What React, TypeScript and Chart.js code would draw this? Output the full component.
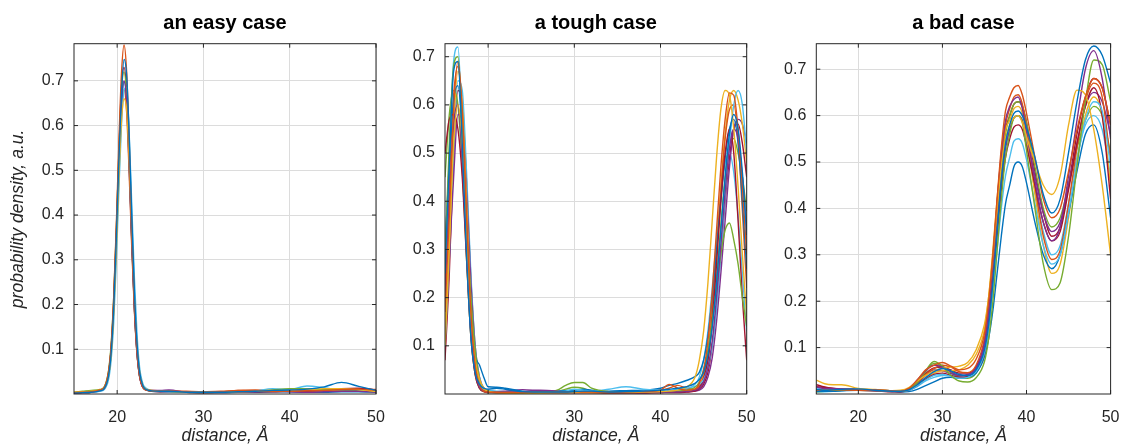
import React, { useEffect, useRef } from 'react';
import Chart from 'chart.js/auto';

// ---------- data ----------
const COLORS = ['#0072BD', '#D95319', '#EDB120', '#7E2F8E', '#77AC30', '#4DBEEE', '#A2142F'];
const X_TICKS = [20, 30, 40, 50];
const Y_TICKS = [0.1, 0.2, 0.3, 0.4, 0.5, 0.6, 0.7];
const X_LABEL = 'distance, Å';
const Y_LABEL = 'probability density, a.u.';
const TITLES = ['an easy case', 'a tough case', 'a bad case'];

// panel 1: an easy case
const EASY_X = [15, 16, 17, 18, 18.5, 19, 19.3, 19.6, 19.9, 20.2, 20.5, 20.8, 21.1, 21.4, 21.7, 22, 22.3, 22.6, 23, 23.5, 24, 25, 26, 28, 30, 32, 34, 36, 38, 40, 42, 44, 46, 48, 50];
const EASY_1 = [.002, .003, .004, .007, .012, .040, .090, .190, .345, .520, .670, .748, .712, .575, .395, .230, .115, .050, .018, .009, .007, .006, .006, .004, .004, .004, .005, .006, .008, .009, .011, .016, .026, .017, .008];
const EASY_2 = [.003, .004, .005, .009, .015, .050, .105, .215, .375, .560, .715, .780, .720, .560, .370, .205, .100, .042, .014, .008, .007, .006, .007, .005, .004, .005, .008, .007, .006, .006, .007, .008, .010, .011, .008];
const EASY_3 = [.004, .005, .006, .009, .013, .040, .085, .180, .320, .480, .610, .660, .635, .520, .365, .215, .110, .050, .018, .010, .008, .006, .006, .004, .004, .004, .005, .006, .006, .008, .010, .012, .012, .010, .006];
const EASY_4 = [.002, .003, .004, .008, .012, .045, .100, .200, .350, .520, .655, .700, .650, .505, .335, .190, .092, .040, .014, .009, .008, .008, .009, .004, .003, .003, .004, .005, .007, .005, .004, .005, .006, .006, .004];
const EASY_5 = [.004, .006, .008, .010, .016, .052, .110, .215, .365, .535, .675, .720, .665, .515, .340, .192, .093, .040, .015, .009, .007, .006, .006, .004, .003, .004, .004, .006, .009, .012, .012, .010, .009, .007, .005];
const EASY_6 = [.002, .003, .004, .006, .010, .032, .075, .160, .295, .455, .600, .680, .685, .580, .420, .260, .135, .060, .022, .011, .008, .006, .005, .004, .004, .004, .005, .007, .012, .010, .018, .014, .008, .006, .005];
const EASY_7 = [.002, .003, .004, .007, .012, .045, .100, .205, .360, .540, .685, .730, .675, .525, .345, .195, .094, .040, .014, .008, .006, .005, .005, .004, .003, .004, .005, .005, .005, .006, .006, .008, .012, .013, .009];
const EASY_8 = [.003, .004, .005, .008, .013, .042, .092, .190, .335, .500, .635, .698, .665, .540, .370, .215, .108, .047, .016, .008, .006, .005, .005, .004, .003, .003, .004, .004, .005, .005, .004, .004, .005, .005, .004];
const EASY_9 = [.003, .004, .005, .008, .013, .046, .098, .195, .340, .495, .625, .680, .630, .490, .325, .185, .090, .040, .015, .009, .008, .007, .007, .006, .005, .006, .008, .009, .008, .007, .008, .009, .010, .012, .010];
const EASY_SERIES = [EASY_1, EASY_2, EASY_3, EASY_4, EASY_5, EASY_6, EASY_7, EASY_8, EASY_9];

// panel 2: a tough case
const TOUGH_X = [15, 15.5, 16, 16.5, 17, 17.5, 18, 18.5, 19, 19.5, 20, 21, 22, 24, 26, 28, 29, 30, 31, 32, 34, 36, 38, 40, 41, 42, 43, 44, 44.5, 45, 45.5, 46, 46.5, 47, 47.5, 48, 48.5, 49, 49.5, 50];
const TOUGH_1 = [.25, .48, .67, .69, .52, .29, .12, .045, .02, .012, .010, .012, .010, .005, .004, .004, .004, .005, .006, .006, .004, .005, .006, .008, .010, .012, .015, .022, .030, .045, .08, .14, .23, .34, .45, .54, .58, .55, .46, .33];
const TOUGH_2 = [.17, .37, .59, .69, .59, .37, .17, .06, .018, .006, .004, .003, .003, .003, .005, .004, .004, .005, .004, .004, .003, .004, .005, .008, .020, .012, .008, .010, .022, .050, .11, .21, .34, .47, .57, .625, .62, .55, .43, .29];
const TOUGH_3 = [.14, .32, .52, .60, .52, .33, .16, .07, .03, .012, .006, .003, .002, .002, .002, .003, .003, .003, .003, .003, .003, .003, .004, .005, .006, .008, .014, .035, .07, .13, .23, .36, .49, .59, .63, .62, .55, .43, .29, .16];
const TOUGH_4 = [.20, .40, .56, .60, .49, .30, .13, .045, .014, .006, .004, .004, .004, .005, .008, .006, .004, .004, .004, .004, .003, .003, .003, .004, .004, .004, .005, .008, .012, .025, .055, .11, .20, .31, .42, .51, .55, .53, .45, .34];
const TOUGH_5 = [.28, .52, .68, .70, .55, .35, .20, .09, .03, .012, .006, .004, .003, .003, .004, .008, .018, .024, .024, .012, .005, .004, .004, .004, .005, .006, .008, .014, .025, .05, .09, .15, .22, .29, .34, .355, .32, .27, .20, .14];
const TOUGH_6 = [.26, .50, .69, .72, .55, .31, .13, .05, .02, .01, .008, .006, .005, .004, .004, .005, .006, .010, .008, .006, .010, .015, .010, .008, .008, .010, .012, .016, .02, .03, .055, .10, .18, .29, .41, .52, .60, .63, .60, .50];
const TOUGH_7 = [.50, .57, .58, .55, .45, .28, .12, .04, .012, .005, .003, .003, .003, .003, .003, .003, .003, .003, .003, .003, .002, .002, .002, .003, .003, .003, .004, .006, .012, .03, .07, .15, .27, .40, .50, .55, .50, .36, .20, .07];
const TOUGH_8 = [.30, .48, .61, .64, .54, .34, .16, .08, .06, .035, .015, .014, .012, .006, .005, .006, .007, .008, .010, .008, .006, .007, .008, .012, .018, .022, .028, .036, .045, .07, .12, .20, .30, .40, .49, .55, .57, .52, .40, .26];
const TOUGH_9 = [.22, .44, .62, .68, .57, .36, .17, .06, .02, .008, .005, .005, .005, .004, .004, .005, .005, .005, .005, .005, .004, .004, .005, .008, .012, .018, .012, .010, .016, .035, .08, .17, .29, .42, .53, .59, .60, .53, .38, .22];
const TOUGH_10 = [.10, .30, .55, .67, .60, .40, .19, .08, .03, .01, .005, .003, .003, .002, .003, .003, .003, .004, .004, .003, .003, .003, .003, .004, .005, .005, .006, .009, .016, .04, .09, .18, .30, .43, .54, .61, .63, .61, .56, .48];
const TOUGH_11 = [.13, .28, .45, .58, .56, .42, .23, .09, .03, .01, .006, .005, .006, .009, .007, .006, .005, .005, .004, .004, .004, .004, .004, .004, .004, .004, .005, .006, .008, .015, .035, .075, .15, .25, .36, .47, .55, .57, .56, .52];
const TOUGH_12 = [.45, .58, .63, .60, .47, .28, .12, .04, .012, .005, .003, .003, .003, .002, .003, .005, .010, .014, .012, .006, .004, .006, .004, .004, .004, .005, .006, .008, .014, .03, .07, .14, .24, .35, .45, .52, .53, .50, .45, .38];
const TOUGH_13 = [.10, .28, .50, .65, .63, .46, .25, .10, .035, .012, .006, .004, .004, .003, .003, .003, .003, .004, .004, .004, .005, .006, .005, .005, .006, .007, .01, .02, .035, .07, .13, .22, .32, .41, .48, .50, .46, .37, .25, .13];
const TOUGH_14 = [.07, .25, .50, .63, .60, .44, .24, .10, .035, .012, .005, .003, .003, .003, .003, .003, .003, .003, .003, .003, .003, .003, .003, .003, .004, .004, .005, .007, .01, .02, .045, .10, .18, .29, .40, .49, .55, .56, .52, .45];
const TOUGH_SERIES = [TOUGH_1, TOUGH_2, TOUGH_3, TOUGH_4, TOUGH_5, TOUGH_6, TOUGH_7, TOUGH_8, TOUGH_9, TOUGH_10, TOUGH_11, TOUGH_12, TOUGH_13, TOUGH_14];

// panel 3: a bad case
const BAD_X = [15, 16, 17, 18, 20, 22, 24, 25, 26, 27, 28, 29, 30, 31, 32, 33, 34, 35, 35.5, 36, 36.5, 37, 37.5, 38, 38.5, 39, 39.5, 40, 41, 42, 43, 44, 45, 46, 47, 48, 49, 50];
const BAD_1 = [.010, .008, .009, .010, .011, .008, .006, .006, .009, .020, .035, .048, .055, .050, .042, .040, .052, .095, .15, .24, .35, .46, .54, .58, .605, .61, .60, .575, .51, .43, .39, .42, .52, .63, .72, .75, .73, .67];
const BAD_2 = [.008, .008, .009, .009, .008, .009, .007, .006, .012, .030, .052, .062, .068, .060, .052, .055, .075, .13, .20, .30, .42, .53, .61, .64, .66, .665, .645, .605, .51, .42, .38, .40, .48, .57, .64, .68, .66, .58];
const BAD_3 = [.030, .022, .020, .020, .012, .010, .007, .008, .014, .028, .040, .050, .055, .058, .060, .068, .095, .15, .21, .30, .40, .49, .55, .58, .595, .60, .585, .555, .50, .45, .43, .47, .58, .655, .645, .57, .45, .30];
const BAD_4 = [.015, .012, .012, .011, .010, .008, .006, .006, .012, .030, .050, .062, .058, .048, .040, .040, .055, .11, .18, .29, .41, .52, .59, .62, .635, .64, .615, .565, .46, .37, .33, .36, .47, .59, .70, .74, .68, .55];
const BAD_5 = [.008, .008, .008, .009, .009, .008, .006, .006, .010, .025, .050, .070, .060, .040, .028, .026, .035, .07, .12, .20, .31, .42, .51, .56, .595, .60, .585, .525, .40, .28, .225, .24, .34, .49, .63, .72, .71, .63];
const BAD_6 = [.012, .010, .010, .010, .010, .008, .006, .006, .008, .018, .030, .040, .042, .038, .034, .036, .048, .09, .14, .22, .31, .40, .47, .51, .545, .55, .54, .505, .41, .32, .28, .30, .39, .50, .59, .63, .61, .49];
const BAD_7 = [.020, .015, .012, .010, .008, .007, .005, .005, .008, .018, .032, .042, .045, .040, .036, .038, .050, .09, .15, .24, .34, .44, .51, .55, .575, .58, .57, .535, .45, .37, .33, .35, .44, .54, .62, .66, .60, .42];
const BAD_8 = [.006, .006, .006, .007, .008, .007, .005, .004, .005, .010, .018, .026, .034, .036, .034, .036, .045, .08, .12, .18, .26, .34, .41, .45, .49, .50, .49, .455, .37, .30, .27, .30, .39, .48, .56, .58, .52, .38];
const BAD_9 = [.010, .010, .011, .011, .010, .008, .006, .006, .010, .024, .042, .055, .062, .058, .048, .046, .062, .12, .19, .29, .41, .51, .58, .615, .64, .645, .625, .575, .45, .34, .29, .31, .41, .53, .63, .67, .64, .50];
const BAD_10 = [.006, .007, .007, .008, .008, .007, .006, .006, .009, .020, .035, .045, .050, .050, .052, .062, .085, .14, .21, .31, .42, .51, .57, .59, .615, .62, .605, .555, .43, .32, .26, .28, .38, .50, .60, .64, .60, .45];
const BAD_11 = [.010, .010, .010, .010, .009, .008, .006, .005, .009, .022, .040, .052, .050, .044, .040, .042, .056, .10, .16, .25, .36, .46, .53, .57, .595, .60, .59, .555, .47, .39, .35, .37, .45, .54, .62, .65, .63, .56];
const BAD_12 = [.005, .006, .007, .008, .009, .008, .006, .006, .010, .026, .048, .066, .060, .046, .036, .034, .045, .09, .15, .25, .37, .48, .56, .60, .625, .63, .62, .585, .49, .40, .36, .38, .45, .53, .59, .62, .60, .52];
const BAD_13 = [.004, .005, .006, .007, .010, .009, .007, .006, .008, .016, .028, .036, .040, .040, .038, .040, .052, .10, .16, .25, .36, .46, .53, .57, .595, .60, .59, .545, .44, .35, .30, .32, .41, .51, .58, .60, .57, .47];
const BAD_14 = [.016, .014, .012, .011, .010, .009, .007, .006, .010, .024, .044, .056, .058, .052, .045, .045, .058, .11, .18, .28, .40, .50, .57, .60, .625, .63, .62, .585, .48, .39, .34, .36, .45, .56, .64, .68, .66, .58];
const BAD_SERIES = [BAD_1, BAD_2, BAD_3, BAD_4, BAD_5, BAD_6, BAD_7, BAD_8, BAD_9, BAD_10, BAD_11, BAD_12, BAD_13, BAD_14];

const Y_MAX = [0.783, 0.727, 0.755];

// ---------- styling / layout ----------
const FONT = "'Liberation Sans', Arial, Helvetica, sans-serif";
const AXIS_COLOR = '#262626';
const GRID_COLOR = '#dcdcdc';
const CANVAS_H = 450;
const PLOT_BOTTOM = 394;

const PANELS = [
  { left: 0, width: 400, yw: 74, padRight: 24, xs: EASY_X, series: EASY_SERIES, showY: true },
  { left: 380, width: 390, yw: 65, padRight: 23.3, xs: TOUGH_X, series: TOUGH_SERIES, showY: false },
  { left: 753, width: 380, yw: 63.3, padRight: 13.7, xs: BAD_X, series: BAD_SERIES, showY: false },
];

const framePlugin = {
  id: 'matlabFrame',
  afterDatasetsDraw(chart: any) {
    const { ctx, chartArea } = chart;
    const { left, right, top, bottom } = chartArea;
    const xs = chart.scales.x;
    const ys = chart.scales.y;
    const tl = 4;
    ctx.save();
    ctx.strokeStyle = AXIS_COLOR;
    ctx.lineWidth = 1;
    ctx.beginPath();
    xs.ticks.forEach((t: any) => {
      const px = xs.getPixelForValue(t.value);
      ctx.moveTo(px, bottom);
      ctx.lineTo(px, bottom - tl);
      ctx.moveTo(px, top);
      ctx.lineTo(px, top + tl);
    });
    ys.ticks.forEach((t: any) => {
      const py = ys.getPixelForValue(t.value);
      ctx.moveTo(left, py);
      ctx.lineTo(left + tl, py);
      ctx.moveTo(right, py);
      ctx.lineTo(right - tl, py);
    });
    ctx.stroke();
    ctx.strokeRect(left, top, right - left, bottom - top);
    ctx.restore();
  },
};

function Panel({ idx }: { idx: number }) {
  const ref = useRef<HTMLCanvasElement>(null);
  const p = PANELS[idx];
  useEffect(() => {
    if (!ref.current) return;
    const datasets = p.series.map((ys: number[], i: number) => ({
      data: p.xs.map((x: number, k: number) => ({ x, y: ys[k] })),
      borderColor: COLORS[i % COLORS.length],
      backgroundColor: COLORS[i % COLORS.length],
      borderWidth: 1.4,
      pointRadius: 0,
      fill: false,
      cubicInterpolationMode: 'monotone' as const,
    }));
    const chart = new Chart(ref.current, {
      type: 'line',
      data: { datasets },
      options: {
        animation: false,
        responsive: false,
        devicePixelRatio: 1,
        events: [],
        layout: { padding: { left: 0, right: p.padRight, top: 0, bottom: 0 } },
        plugins: {
          legend: { display: false },
          tooltip: { enabled: false },
          title: {
            display: true,
            text: TITLES[idx],
            fullSize: false,
            color: '#000000',
            font: { family: FONT, size: 20, weight: 'bold', lineHeight: 1.2 },
            padding: { top: 11.3, bottom: 8.4 },
          },
        },
        scales: {
          x: {
            type: 'linear',
            min: 15,
            max: 50,
            afterBuildTicks: (s: any) => {
              s.ticks = X_TICKS.map((v) => ({ value: v }));
            },
            afterFit: (s: any) => {
              s.height = CANVAS_H - PLOT_BOTTOM;
            },
            grid: { color: GRID_COLOR, lineWidth: 1, drawTicks: false },
            border: { display: false },
            ticks: {
              color: AXIS_COLOR,
              font: { family: FONT, size: 16 },
              padding: 13.5,
              maxRotation: 0,
              autoSkip: false,
              callback: (v: any) => String(v),
            },
            title: {
              display: true,
              text: X_LABEL,
              color: AXIS_COLOR,
              font: { family: FONT, size: 17.6, style: 'italic', lineHeight: 1.2 },
              padding: { top: 0, bottom: 3.5 },
            },
          },
          y: {
            type: 'linear',
            min: 0,
            max: Y_MAX[idx],
            afterBuildTicks: (s: any) => {
              s.ticks = Y_TICKS.map((v) => ({ value: v }));
            },
            afterFit: (s: any) => {
              s.width = p.yw;
            },
            grid: { color: GRID_COLOR, lineWidth: 1, drawTicks: false },
            border: { display: false },
            ticks: {
              color: AXIS_COLOR,
              font: { family: FONT, size: 16 },
              padding: 10,
              autoSkip: false,
              callback: (v: any) => Number(v).toFixed(1),
            },
            title: {
              display: p.showY,
              text: Y_LABEL,
              color: AXIS_COLOR,
              font: { family: FONT, size: 17.6, style: 'italic', lineHeight: 1.2 },
              padding: { top: 8, bottom: 0 },
            },
          },
        },
      },
      plugins: [framePlugin],
    });
    return () => chart.destroy();
  }, [idx]);
  return (
    <canvas
      ref={ref}
      width={p.width}
      height={CANVAS_H}
      style={{ position: 'absolute', left: p.left, top: 0, width: p.width, height: CANVAS_H }}
    />
  );
}

export default function App() {
  return (
    <div
      style={{
        position: 'fixed',
        left: 0,
        top: 0,
        width: 1133,
        height: 444,
        overflow: 'hidden',
        background: '#ffffff',
      }}
    >
      <Panel idx={0} />
      <Panel idx={1} />
      <Panel idx={2} />
    </div>
  );
}
